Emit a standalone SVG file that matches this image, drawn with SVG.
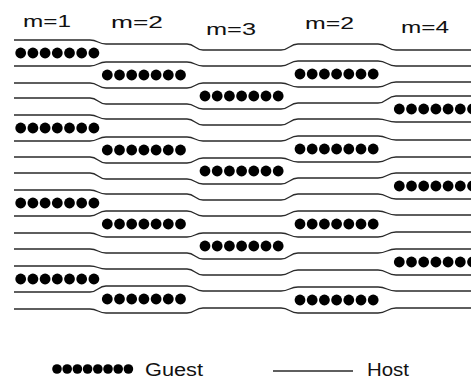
<svg xmlns="http://www.w3.org/2000/svg" width="471" height="379" viewBox="0 0 471 379">
<style>
.host{fill:none;stroke:#2a2a2a;stroke-width:1.3}
.lbl{font-family:"Liberation Sans",Arial,Helvetica,sans-serif;font-size:17px;fill:#111}
.leg{font-family:"Liberation Sans",Arial,Helvetica,sans-serif;font-size:18px;fill:#111}
.dot{fill:#000}
</style>
<defs>
<g id="row">
<circle class="dot" cx="0" cy="0" r="5.4"/>
<circle class="dot" cx="12.2" cy="0" r="5.4"/>
<circle class="dot" cx="24.4" cy="0" r="5.4"/>
<circle class="dot" cx="36.6" cy="0" r="5.4"/>
<circle class="dot" cx="48.8" cy="0" r="5.4"/>
<circle class="dot" cx="61" cy="0" r="5.4"/>
<circle class="dot" cx="73.2" cy="0" r="5.4"/>
</g>
</defs>
<rect width="471" height="379" fill="#fff"/>
<g id="labels">
<text class="lbl" x="23" y="27" textLength="48" lengthAdjust="spacingAndGlyphs">m=1</text>
<text class="lbl" x="111" y="28" textLength="52" lengthAdjust="spacingAndGlyphs">m=2</text>
<text class="lbl" x="206" y="35" textLength="50" lengthAdjust="spacingAndGlyphs">m=3</text>
<text class="lbl" x="305" y="29" textLength="49" lengthAdjust="spacingAndGlyphs">m=2</text>
<text class="lbl" x="401" y="33" textLength="48" lengthAdjust="spacingAndGlyphs">m=4</text>
</g>
<g id="host-layers">
<path class="host" d="M14,40 L90,40 C98,40 98,44 106,44 L187,44 C195,44 195,50 203,50 L281,50 C289.5,50 289.5,44 298,44 L378,44 C387,44 387,50 396,50 L471,50"/>
<path class="host" d="M14,66 L90,66 C98,66 98,62 106,62 L187,62 C195,62 195,66 203,66 L281,66 C289.5,66 289.5,61 298,61 L378,61 C387,61 387,66 396,66 L471,66"/>
<path class="host" d="M14,83 L90,83 C98,83 98,88 106,88 L187,88 C195,88 195,83 203,83 L281,83 C289.5,83 289.5,87 298,87 L378,87 C387,87 387,82 396,82 L471,82"/>
<path class="host" d="M14,98 L90,98 C98,98 98,104 106,104 L187,104 C195,104 195,109 203,109 L281,109 C289.5,109 289.5,103 298,103 L378,103 C387,103 387,96 396,96 L471,96"/>
<path class="host" d="M14,115 L90,115 C98,115 98,119 106,119 L187,119 C195,119 195,125 203,125 L281,125 C289.5,125 289.5,119 298,119 L378,119 C387,119 387,122 396,122 L471,122"/>
<path class="host" d="M14,141 L90,141 C98,141 98,137 106,137 L187,137 C195,137 195,141 203,141 L281,141 C289.5,141 289.5,136 298,136 L378,136 C387,136 387,140 396,140 L471,140"/>
<path class="host" d="M14,157 L90,157 C98,157 98,163 106,163 L187,163 C195,163 195,158 203,158 L281,158 C289.5,158 289.5,162 298,162 L378,162 C387,162 387,157 396,157 L471,157"/>
<path class="host" d="M14,173 L90,173 C98,173 98,179 106,179 L187,179 C195,179 195,184 203,184 L281,184 C289.5,184 289.5,178 298,178 L378,178 C387,178 387,173 396,173 L471,173"/>
<path class="host" d="M14,190 L90,190 C98,190 98,194 106,194 L187,194 C195,194 195,200 203,200 L281,200 C289.5,200 289.5,194 298,194 L378,194 C387,194 387,199 396,199 L471,199"/>
<path class="host" d="M14,216 L90,216 C98,216 98,211 106,211 L187,211 C195,211 195,216 203,216 L281,216 C289.5,216 289.5,211 298,211 L378,211 C387,211 387,215 396,215 L471,215"/>
<path class="host" d="M14,233 L90,233 C98,233 98,237 106,237 L187,237 C195,237 195,233 203,233 L281,233 C289.5,233 289.5,237 298,237 L378,237 C387,237 387,232 396,232 L471,232"/>
<path class="host" d="M14,249 L90,249 C98,249 98,253 106,253 L187,253 C195,253 195,259 203,259 L281,259 C289.5,259 289.5,253 298,253 L378,253 C387,253 387,249 396,249 L471,249"/>
<path class="host" d="M14,266 L90,266 C98,266 98,269 106,269 L187,269 C195,269 195,275 203,275 L281,275 C289.5,275 289.5,270 298,270 L378,270 C387,270 387,275 396,275 L471,275"/>
<path class="host" d="M14,292 L90,292 C98,292 98,286 106,286 L187,286 C195,286 195,291 203,291 L281,291 C289.5,291 289.5,287 298,287 L378,287 C387,287 387,291 396,291 L471,291"/>
<path class="host" d="M14,309 L90,309 C98,309 98,313 106,313 L187,313 C195,313 195,308 203,308 L281,308 C289.5,308 289.5,313 298,313 L378,313 C387,313 387,308 396,308 L471,308"/>
</g>
<g id="guest-m1">
<use href="#row" x="20.7" y="53"/>
<use href="#row" x="20.7" y="128"/>
<use href="#row" x="20.7" y="203"/>
<use href="#row" x="20.7" y="279"/>
</g>
<g id="guest-m2a">
<use href="#row" x="107.3" y="75"/>
<use href="#row" x="107.3" y="150"/>
<use href="#row" x="107.3" y="224"/>
<use href="#row" x="107.3" y="299"/>
</g>
<g id="guest-m3">
<use href="#row" x="205" y="96"/>
<use href="#row" x="205" y="171"/>
<use href="#row" x="205" y="246"/>
</g>
<g id="guest-m2b">
<use href="#row" x="300" y="74"/>
<use href="#row" x="300" y="149"/>
<use href="#row" x="300" y="224"/>
<use href="#row" x="300" y="300"/>
</g>
<g id="guest-m4">
<use href="#row" x="399.3" y="109"/>
<use href="#row" x="399.3" y="186"/>
<use href="#row" x="399.3" y="262"/>
</g>
<g id="legend">
<g id="legend-guest">
<circle class="dot" cx="57" cy="369" r="4.8"/>
<circle class="dot" cx="67.2" cy="369" r="4.8"/>
<circle class="dot" cx="77.4" cy="369" r="4.8"/>
<circle class="dot" cx="87.6" cy="369" r="4.8"/>
<circle class="dot" cx="97.8" cy="369" r="4.8"/>
<circle class="dot" cx="108" cy="369" r="4.8"/>
<circle class="dot" cx="118.2" cy="369" r="4.8"/>
<circle class="dot" cx="128.4" cy="369" r="4.8"/>
<text class="leg" x="145" y="376" textLength="58" lengthAdjust="spacingAndGlyphs">Guest</text>
</g>
<g id="legend-host">
<line class="host" x1="273" y1="371" x2="353" y2="371"/>
<text class="leg" x="367" y="376" textLength="42" lengthAdjust="spacingAndGlyphs">Host</text>
</g>
</g>
</svg>
